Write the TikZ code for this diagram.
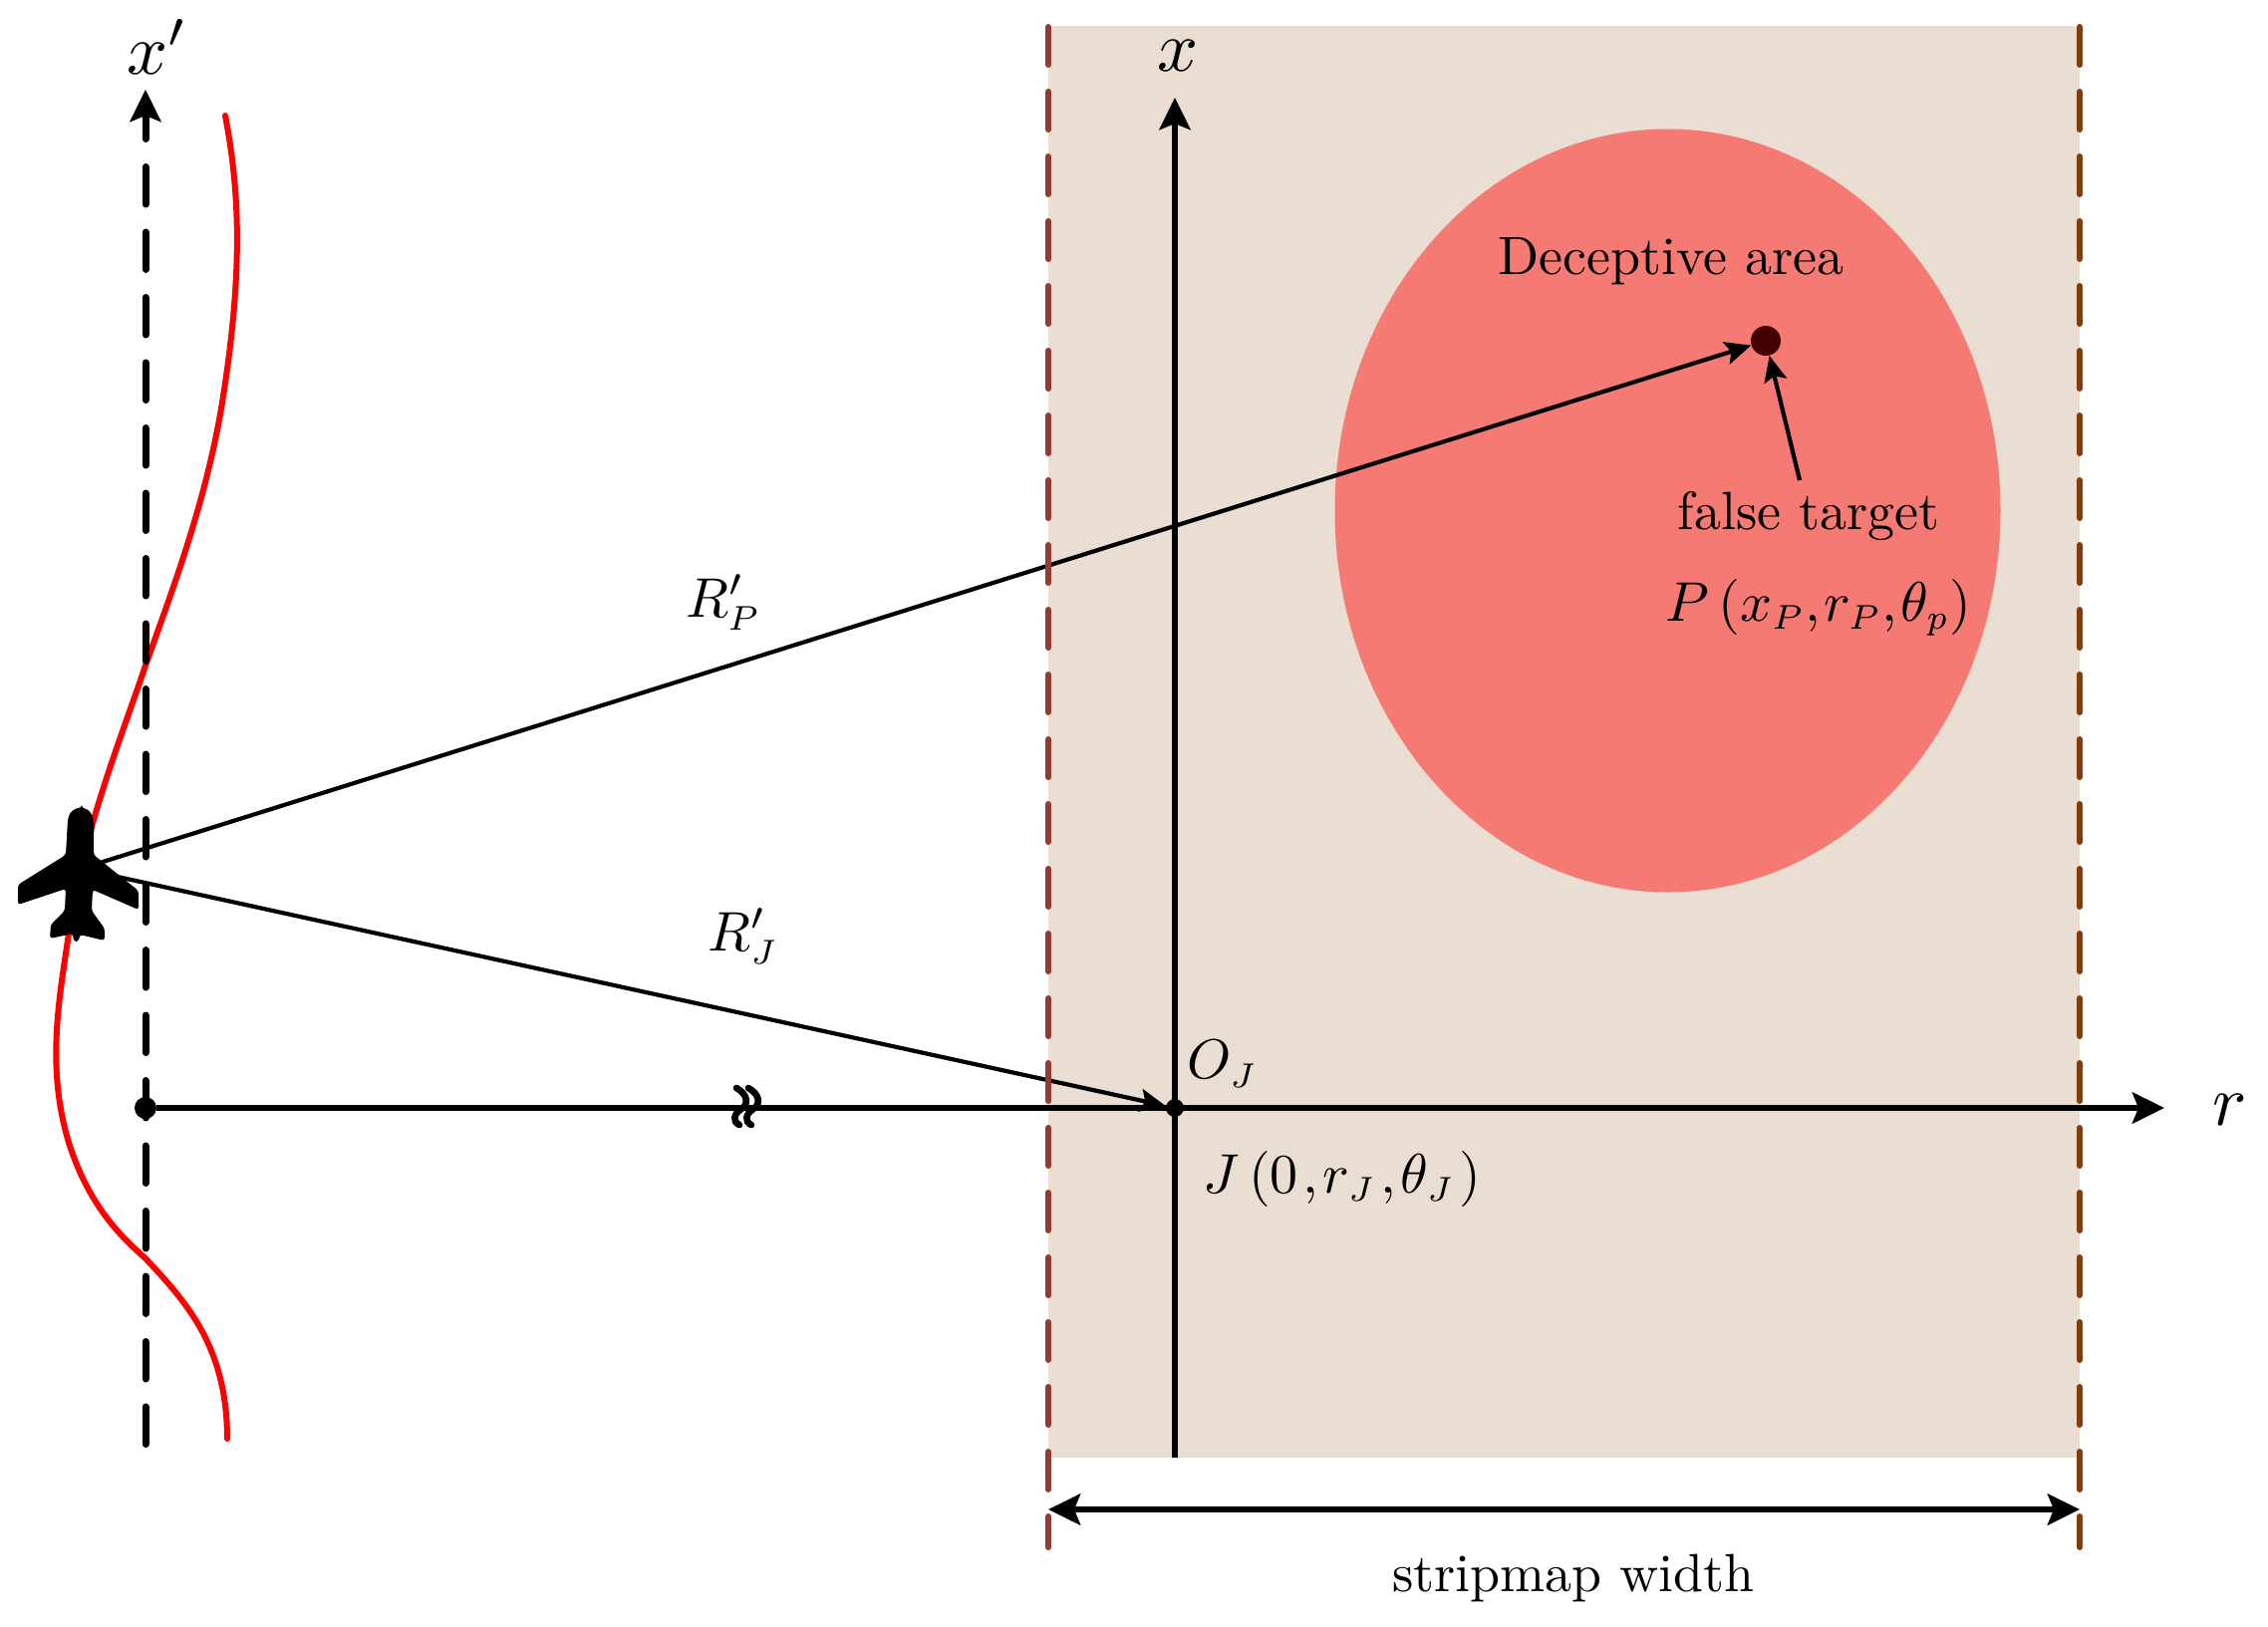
\documentclass[tikz,border=0pt]{standalone}
\usetikzlibrary{arrows.meta}
\definecolor{stripbg}{HTML}{EADDD1}
\definecolor{decarea}{HTML}{F47A73}
\definecolor{darkdot}{HTML}{450000}
\definecolor{edgeL}{HTML}{963A32}
\definecolor{edgeR}{HTML}{843C0C}
\newcommand{\sbs}[1]{\scalebox{0.88}{$\scriptstyle #1$}}
\tikzset{
  x=0.5pt,y=-0.5pt,
  bighead/.style={-{Stealth[length=16pt,width=15.5pt,inset=3pt]}},
  smallhead/.style={-{Stealth[length=13pt,width=11.5pt,inset=2.5pt]}},
  axisline/.style={line width=3.3pt},
  thinarrow/.style={line width=2.1pt,smallhead},
  edgedash/.style={line width=3pt,line cap=round,dash pattern=on 19pt off 13.5pt},
  lbl/.style={inner sep=0pt,scale=2.7},
  mlbl/.style={inner sep=0pt,scale=2.8},
  axlbl/.style={inner sep=0pt,scale=3.6},
  dotmark/.style={circle,fill=black,inner sep=0pt,minimum size=#1},
  breakline/.style={line width=3.3pt,line cap=round},
}
\begin{document}
\begin{tikzpicture}
\useasboundingbox (0,0) rectangle (2276,1633);
% coordinates
\coordinate (rectTL) at (1052,26);
\coordinate (rectBR) at (2087,1463);
\coordinate (ltop) at (1052,27);
\coordinate (lbot) at (1052,1553);
\coordinate (rtop) at (2087,27);
\coordinate (rbot) at (2087,1553);
\coordinate (wl) at (1052,1515);
\coordinate (wr) at (2087,1515);
\coordinate (xbot) at (1179,1463);
\coordinate (xtop) at (1179,98);
\coordinate (xpbot) at (146,1449.5);
\coordinate (xpneck) at (146,112);
\coordinate (xpbase) at (146,118);
\coordinate (xptop) at (146,90);
\coordinate (rend) at (2172,1112);
\coordinate (planeP) at (100,866);
\coordinate (planeJ) at (118,880);
\coordinate (ftail) at (1806,482);
% background
\fill[stripbg] (rectTL) rectangle (rectBR);
\fill[decarea] (1673.5,512.5) ellipse [x radius=334,y radius=383];
% red trajectory
\draw[red,line width=3pt,line cap=round]
  (226,116) .. controls (240,190) and (245,270) .. (222,410)
  .. controls (205,510) and (170,600) .. (146,668)
  .. controls (120,745) and (85,830) .. (70,930)
  .. controls (60,1000) and (45,1070) .. (70,1150)
  .. controls (90,1210) and (120,1240) .. (146,1263)
  .. controls (185,1305) and (228,1350) .. (228,1444);
% x' axis
\draw[line width=3.5pt,line cap=round,dash pattern=on 18.75pt off 14pt] (xpbot) -- (xpneck);
\draw[axisline,bighead] (xpbase) -- (xptop);
% x axis
\draw[axisline,bighead] (xbot) -- (xtop);
% target and range arrows
\node[circle,fill=darkdot,inner sep=0pt,minimum size=15pt] (P) at (1772,342) {};
\node[dotmark=11pt] (O) at (146,1112) {};
\node[dotmark=9pt] (J) at (1179,1112) {};
\draw[axisline,bighead] (O) -- (rend);
\draw[thinarrow] (planeP) -- (P);
\draw[thinarrow] (planeJ) -- (J);
\draw[thinarrow] (ftail) -- (P);
% break mark
\draw[breakline] (739,1092) .. controls (750,1098) and (752,1108) .. (744,1113) .. controls (736,1118) and (735,1126) .. (742,1129);
\draw[breakline] (751,1092) .. controls (762,1098) and (764,1108) .. (756,1113) .. controls (748,1118) and (747,1126) .. (754,1129);
% edges
\draw[edgeL,edgedash] (ltop) -- (lbot);
\draw[edgeR,edgedash] (rtop) -- (rbot);
\draw[axisline,{Stealth[length=16pt,width=15.5pt,inset=3pt]}-{Stealth[length=16pt,width=15.5pt,inset=3pt]}] (wl) -- (wr);
% aircraft
\fill[black,rounded corners=1.5pt] (82,811) .. controls (93,813) and (95,825) .. (94,838) -- (94,858) -- (139,894) -- (139,913) -- (93,893) -- (92,914) -- (105,932) -- (105,944) -- (80,938) -- (79,945) -- (74,945) -- (73,937) -- (50,942) -- (51,928) -- (65,914) -- (66,892) -- (18,908) -- (18,888) -- (66,858) -- (68,823) .. controls (70,815) and (75,811) .. (82,811) -- cycle;
% labels
\node[axlbl] (lxp) at (158,47) {$x'$};
\node[axlbl] (lx) at (1182,56) {$x$};
\node[axlbl] (lr) at (2238,1114) {$r$};
\node[mlbl] (lRP) at (726,605) {$R'_{\sbs{P}}$};
\node[mlbl] (lRJ) at (746,940) {$R'_{\sbs{J}}$};
\node[mlbl] (lOJ) at (1227,1068) {$O_{\sbs{J}}$};
\node[mlbl] (lJ) at (1347,1183) {$J\,(0\mskip1.5mu{,}\mskip1.5mu r_{\sbs{J}}\mskip1.5mu{,}\mskip1.5mu\theta_{\sbs{J}}\mskip1.5mu)$};
\node[lbl] (lD) at (1677,262) {Deceptive area};
\node[lbl] (lF) at (1815,518) {false target};
\node[mlbl] (lP) at (1825,610) {$P\,(x_{\sbs{P}}{,}\mskip1mu r_{\sbs{P}}{,}\mskip1mu\theta_{\sbs{p}})$};
\node[lbl] (lS) at (1579,1584) {stripmap width};
\end{tikzpicture}
\end{document}
